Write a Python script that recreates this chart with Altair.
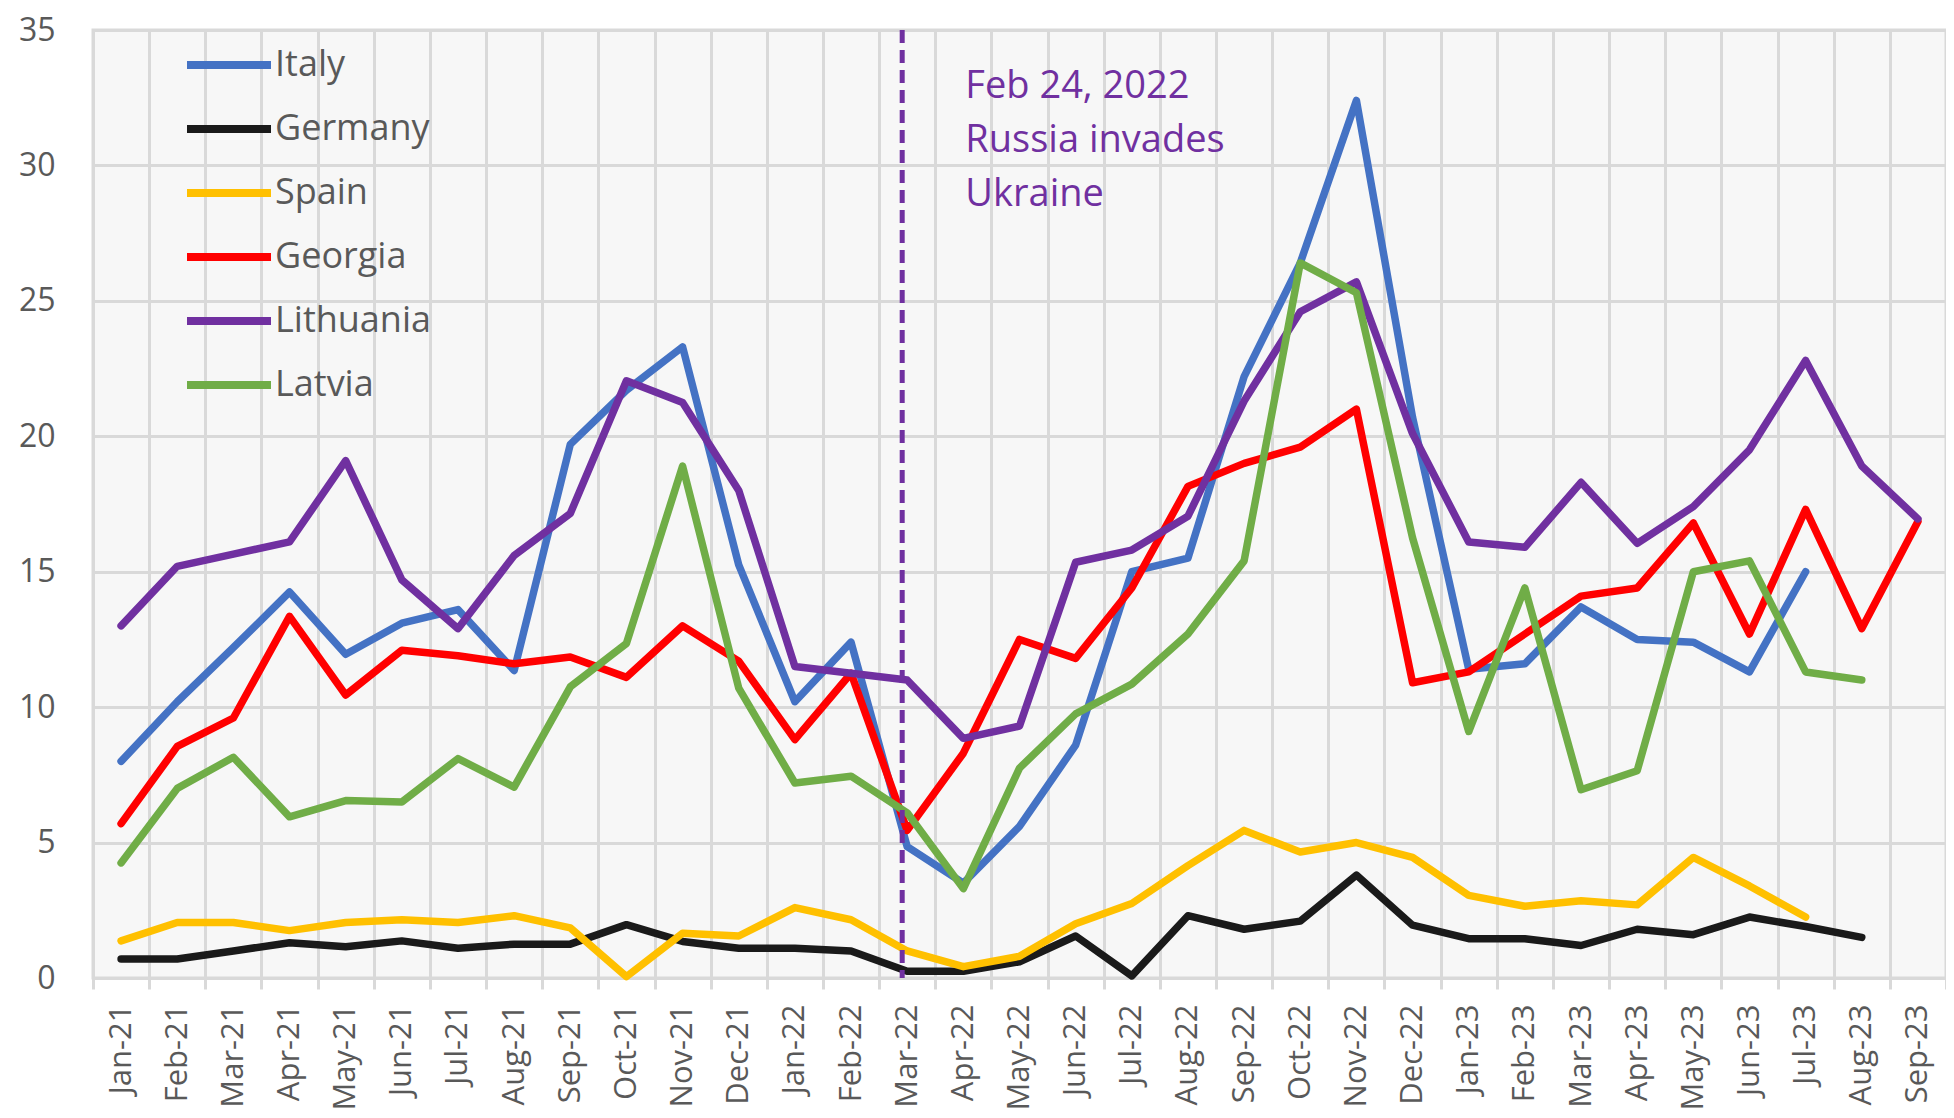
import altair as alt
import pandas as pd

months = ["Jan-21", "Feb-21", "Mar-21", "Apr-21", "May-21", "Jun-21", "Jul-21", "Aug-21",
          "Sep-21", "Oct-21", "Nov-21", "Dec-21", "Jan-22", "Feb-22", "Mar-22", "Apr-22",
          "May-22", "Jun-22", "Jul-22", "Aug-22", "Sep-22", "Oct-22", "Nov-22", "Dec-22",
          "Jan-23", "Feb-23", "Mar-23", "Apr-23", "May-23", "Jun-23", "Jul-23", "Aug-23", "Sep-23"]

countries = ["Italy", "Germany", "Spain", "Georgia", "Lithuania", "Latvia"]
colors = ["#4472C4", "#1a1a1a", "#FFC000", "#FF0000", "#7030A0", "#70AD47"]

italy = [8.0, 10.2, 12.2, 14.25, 11.95, 13.1, 13.6, 11.35, 19.7, 21.7, 23.3, 15.25,
         10.2, 12.4, 4.85, 3.5, 5.6, 8.6, 15.0, 15.5, 22.2, 26.4, 32.4, 20.7,
         11.4, 11.6, 13.7, 12.5, 12.4, 11.3, 15.0, None, None]
germany = [0.7, 0.7, 1.0, 1.3, 1.15, 1.37, 1.1, 1.25, 1.25, 1.97, 1.35, 1.1,
           1.1, 1.0, 0.25, 0.25, 0.6, 1.55, 0.08, 2.3, 1.8, 2.1, 3.8, 1.95,
           1.45, 1.45, 1.2, 1.8, 1.6, 2.25, 1.9, 1.5, None]
spain = [1.37, 2.05, 2.05, 1.75, 2.05, 2.15, 2.05, 2.3, 1.85, 0.05, 1.65, 1.55,
         2.6, 2.15, 1.0, 0.42, 0.8, 2.0, 2.75, 4.15, 5.45, 4.65, 5.0, 4.45,
         3.05, 2.65, 2.85, 2.7, 4.45, 3.4, 2.25, None, None]
georgia = [5.7, 8.55, 9.6, 13.35, 10.45, 12.1, 11.9, 11.6, 11.85, 11.1, 13.0, 11.7,
           8.8, 11.25, 5.45, 8.3, 12.5, 11.8, 14.4, 18.15, 19.0, 19.6, 21.0, 10.9,
           11.3, 12.7, 14.1, 14.4, 16.8, 12.7, 17.3, 12.9, 16.85]
lithuania = [13.0, 15.2, 15.65, 16.1, 19.1, 14.7, 12.9, 15.6, 17.15, 22.05, 21.25, 18.0,
             11.5, 11.25, 11.0, 8.85, 9.3, 15.35, 15.8, 17.05, 21.3, 24.6, 25.7, 20.1,
             16.1, 15.9, 18.3, 16.05, 17.4, 19.5, 22.8, 18.9, 16.95]
latvia = [4.25, 7.0, 8.15, 5.95, 6.55, 6.5, 8.1, 7.05, 10.75, 12.35, 18.9, 10.7,
          7.2, 7.45, 6.1, 3.3, 7.75, 9.75, 10.85, 12.7, 15.4, 26.4, 25.3, 16.25,
          9.1, 14.4, 6.95, 7.65, 15.0, 15.4, 11.3, 11.0, None]

y_ticks = [0, 5, 10, 15, 20, 25, 30, 35]
event_month = "Mar-22"
annotation_month = "Apr-22"
annotation_lines = ["Feb 24, 2022", "Russia invades", "Ukraine"]
annotation_y = 32.5

series = [italy, germany, spain, georgia, lithuania, latvia]
rows = []
for c, vals in zip(countries, series):
    for m, v in zip(months, vals):
        if v is not None:
            rows.append({"Month": m, "Country": c, "Value": v})
df = pd.DataFrame(rows)

GRID = "#d9d9d9"
LABEL = "#595959"
FONT = "Open Sans"

xscale = alt.Scale(type="band", domain=months, paddingInner=0, paddingOuter=0)
yscale = alt.Scale(domain=[0, 35], nice=False)

x_enc = alt.X(
    "Month:N", sort=months, scale=xscale, bandPosition=0.5, title=None,
    axis=alt.Axis(labelAngle=-90, labelFont=FONT, labelFontSize=31, labelColor=LABEL,
                  tickBand="extent", ticks=True, tickSize=11, tickWidth=3, tickColor=GRID,
                  domain=True, domainColor=GRID, domainWidth=3,
                  grid=True, gridColor=GRID, gridWidth=3, labelPadding=15),
)
y_enc = alt.Y(
    "Value:Q", scale=yscale, title=None,
    axis=alt.Axis(values=y_ticks, labelFont=FONT, labelFontSize=32, labelColor=LABEL,
                  ticks=False, domain=False, grid=True, gridColor=GRID, gridWidth=3,
                  labelPadding=38),
)

lines = alt.Chart(df).mark_line(strokeWidth=7.5, strokeJoin="round", strokeCap="round").encode(
    x=x_enc,
    y=y_enc,
    color=alt.Color(
        "Country:N",
        scale=alt.Scale(domain=countries, range=colors),
        legend=alt.Legend(
            title=None, orient="none", legendX=111, legendY=10,
            symbolType="M-2,0H2", symbolSize=1764, symbolStrokeWidth=8,
            labelFont=FONT, labelFontSize=36, labelColor=LABEL,
            labelOffset=21, rowPadding=21,
        ),
    ),
)

rule = alt.Chart(pd.DataFrame({"Month": [event_month]})).mark_rule(
    color="#7030A0", strokeWidth=5, strokeDash=[13, 7], xOffset=-5
).encode(x=alt.X("Month:N", scale=xscale, bandPosition=0.5))

text = alt.Chart(pd.DataFrame({"Month": [annotation_month], "Value": [annotation_y]})).mark_text(
    text=annotation_lines, align="left", baseline="alphabetic", font=FONT, fontSize=38,
    color="#7030A0", lineHeight=54, dx=2
).encode(
    x=alt.X("Month:N", scale=xscale, bandPosition=0.5),
    y=alt.Y("Value:Q", scale=yscale),
)

chart = alt.layer(lines, rule, text).properties(
    width=1853, height=948,
    padding={"left": 85, "top": 22, "right": 0, "bottom": 132},
    autosize=alt.AutoSizeParams(type="none"),
).configure_view(fill="#f7f7f7", stroke=GRID, strokeWidth=3)

chart.save("out.html", embed_options={"renderer": "svg", "actions": False})
